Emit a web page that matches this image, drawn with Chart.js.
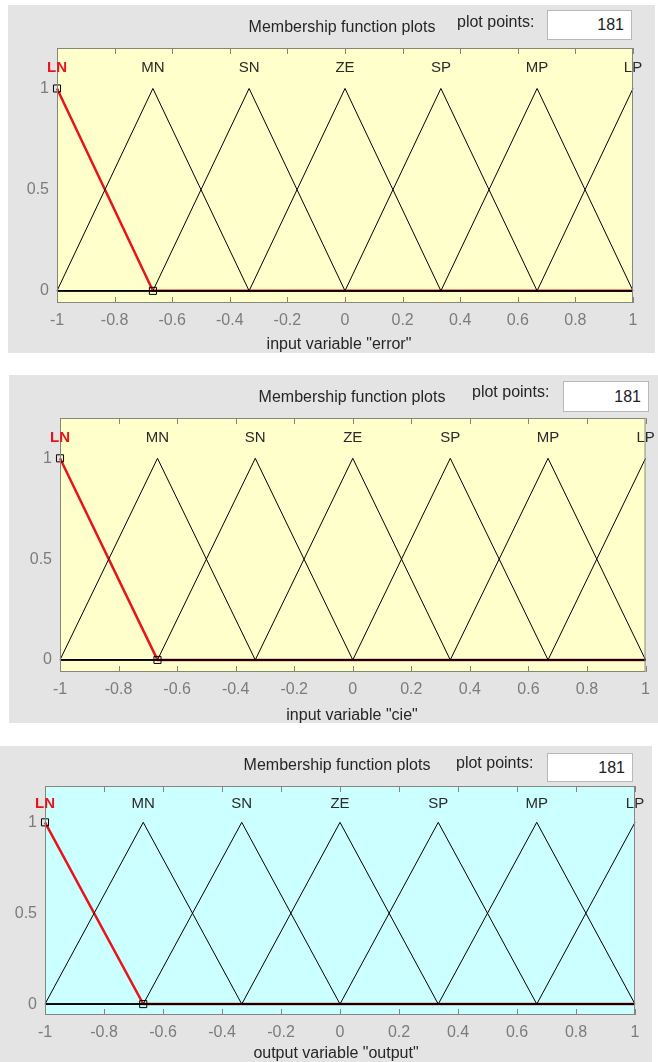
<!DOCTYPE html>
<html>
<head>
<meta charset="utf-8">
<script src="https://cdn.jsdelivr.net/npm/chart.js@4"></script>
<style>
body { margin: 0; background: #fff; width: 658px; height: 1062px; position: relative; overflow: hidden; font-family: "Liberation Sans", Arial, sans-serif; }
.panel { position: absolute; background: #e4e4e4; overflow: hidden; }
.panel canvas { position: absolute; left: 0; top: 0; }
.txt { position: absolute; white-space: nowrap; font-size: 16px; line-height: 16px; color: #262626; }
.box { position: absolute; background: #fff; border: 1px solid #b8b8b8; box-sizing: border-box; font-size: 16px; text-align: right; padding-right: 7px; color: #222; }
</style>
</head>
<body>
<script>
// membership functions (same for all three variables)
const mfNames = ['LN', 'MN', 'SN', 'ZE', 'SP', 'MP', 'LP'];
const mfPeaks = [-1, -0.667, -0.333, 0, 0.333, 0.667, 1];
const mfX = [
    [-1, -0.667, 1],
    [-1, -0.667, -0.333, 1],
    [-1, -0.667, -0.333, 0, 1],
    [-1, -0.333, 0, 0.333, 1],
    [-1, 0, 0.333, 0.667, 1],
    [-1, 0.333, 0.667, 1],
    [-1, 0.667, 1]
];
const mfY = [
    [1, 0, 0],
    [0, 1, 0, 0],
    [0, 0, 1, 0, 0],
    [0, 0, 1, 0, 0],
    [0, 0, 1, 0, 0],
    [0, 0, 1, 0],
    [0, 0, 1]
];
const xTicks = [-1, -0.8, -0.6, -0.4, -0.2, 0, 0.2, 0.4, 0.6, 0.8, 1];
const yTicks = [0, 0.5, 1];
const varLabels = ['input variable "error"', 'input variable "cie"', 'output variable "output"'];
const plotPoints = ['181', '181', '181'];

// layout of the three panels (page pixels)
const panels = [
    { x: 8, y: 5, w: 647, h: 348, plot: { l: 57, t: 48, r: 633, b: 303 }, bg: '#ffffcc',
      title: [342, 27], pp: [457, 22], box: [547, 10, 85, 30], xl: [339, 344] },
    { x: 9, y: 375, w: 649, h: 348, plot: { l: 60, t: 418, r: 651, b: 672 }, bg: '#ffffcc',
      title: [352, 397], pp: [472, 392], box: [563, 381, 86, 31], xl: [352, 715] },
    { x: 0, y: 746, w: 652, h: 316, plot: { l: 45, t: 786, r: 635, b: 1015 }, bg: '#ccffff',
      title: [337, 765], pp: [456, 763], box: [547, 753, 86, 29], xl: [336, 1053] }
];

const mfPlot = {
    id: 'mfPlot',
    beforeDatasetsDraw(chart, args, opts) {
        const { ctx, chartArea: a } = chart;
        ctx.save();
        ctx.fillStyle = opts.bg;
        ctx.fillRect(a.left, a.top, a.right - a.left, a.bottom - a.top);
        ctx.restore();
    },
    afterDatasetsDraw(chart, args, opts) {
        const { ctx, chartArea: a, scales: { x, y } } = chart;
        ctx.save();
        ctx.strokeStyle = '#86867c';
        ctx.lineWidth = 1;
        ctx.strokeRect(a.left + 0.5, a.top + 0.5, a.right - a.left - 1, a.bottom - a.top - 1);
        xTicks.forEach(v => {
            const px = Math.round(x.getPixelForValue(v)) + 0.5;
            ctx.beginPath();
            ctx.moveTo(px, a.bottom);
            ctx.lineTo(px, a.bottom - 6);
            ctx.moveTo(px, a.top);
            ctx.lineTo(px, a.top + 6);
            ctx.stroke();
        });
        ctx.textAlign = 'center';
        ctx.textBaseline = 'middle';
        mfNames.forEach((n, i) => {
            ctx.font = (i === 0 ? 'bold ' : '') + '15px "Liberation Sans", Arial, sans-serif';
            ctx.fillStyle = i === 0 ? '#e8141c' : '#2a2a2a';
            ctx.fillText(n, x.getPixelForValue(mfPeaks[i]), y.getPixelForValue(1.1));
        });
        ctx.restore();
    }
};

function addText(txt, x, y, cls, center) {
    const d = document.createElement('div');
    d.className = cls;
    d.textContent = txt;
    d.style.left = x + 'px';
    d.style.top = y + 'px';
    d.style.transform = center ? 'translate(-50%, -50%)' : 'translate(0, -50%)';
    document.body.appendChild(d);
}

const tickFont = { family: '"Liberation Sans", Arial, sans-serif', size: 16 };
const yAxisW = 30;

panels.forEach((p, k) => {
    const div = document.createElement('div');
    div.className = 'panel';
    div.style.left = p.x + 'px';
    div.style.top = p.y + 'px';
    div.style.width = p.w + 'px';
    div.style.height = p.h + 'px';
    const cv = document.createElement('canvas');
    cv.width = p.w;
    cv.height = p.h;
    div.appendChild(cv);
    document.body.appendChild(div);

    addText('Membership function plots', p.title[0], p.title[1], 'txt', true);
    addText('plot points:', p.pp[0], p.pp[1], 'txt', false);
    const box = document.createElement('div');
    box.className = 'box';
    box.style.left = p.box[0] + 'px';
    box.style.top = p.box[1] + 'px';
    box.style.width = p.box[2] + 'px';
    box.style.height = p.box[3] + 'px';
    box.style.lineHeight = (p.box[3] - 2) + 'px';
    box.textContent = plotPoints[k];
    document.body.appendChild(box);
    addText(varLabels[k], p.xl[0], p.xl[1], 'txt', true);

    const xAxisH = p.y + p.h - p.plot.b;

    new Chart(cv.getContext('2d'), {
        type: 'scatter',
        data: {
            datasets: mfNames.map((n, i) => ({
                label: n,
                data: mfX[i].map((v, j) => ({ x: v, y: mfY[i][j] })),
                showLine: true,
                borderColor: i === 0 ? '#e8141c' : '#000000',
                borderWidth: i === 0 ? 2.5 : 1,
                pointStyle: 'rect',
                pointRadius: i === 0 ? mfX[i].map((v, j) => (j < 2 ? 5 : 0)) : 0,
                pointBorderColor: '#000000',
                pointBackgroundColor: 'rgba(0,0,0,0)',
                pointBorderWidth: 1,
                order: i === 0 ? 10 : 0,
                clip: i === 0 ? false : 1
            }))
        },
        options: {
            responsive: false,
            animation: false,
            devicePixelRatio: 1,
            layout: {
                padding: {
                    left: p.plot.l - p.x - yAxisW,
                    top: p.plot.t - p.y,
                    right: p.x + p.w - p.plot.r,
                    bottom: 0
                }
            },
            plugins: {
                legend: { display: false },
                tooltip: { enabled: false },
                mfPlot: { bg: p.bg }
            },
            scales: {
                x: {
                    type: 'linear',
                    min: -1,
                    max: 1,
                    grid: { display: false, drawTicks: false },
                    border: { display: false },
                    ticks: { color: '#7c7c7c', font: tickFont, padding: 8, maxRotation: 0, callback: v => String(v) },
                    afterBuildTicks: s => { s.ticks = xTicks.map(v => ({ value: v })); },
                    afterFit: s => { s.height = xAxisH; }
                },
                y: {
                    type: 'linear',
                    min: -0.06,
                    max: 1.2,
                    grid: { display: false, drawTicks: false },
                    border: { display: false },
                    ticks: { color: '#7c7c7c', font: tickFont, padding: 8, callback: v => String(v) },
                    afterBuildTicks: s => { s.ticks = yTicks.map(v => ({ value: v })); },
                    afterFit: s => { s.width = yAxisW; }
                }
            }
        },
        plugins: [mfPlot]
    });
});
</script>
</body>
</html>
